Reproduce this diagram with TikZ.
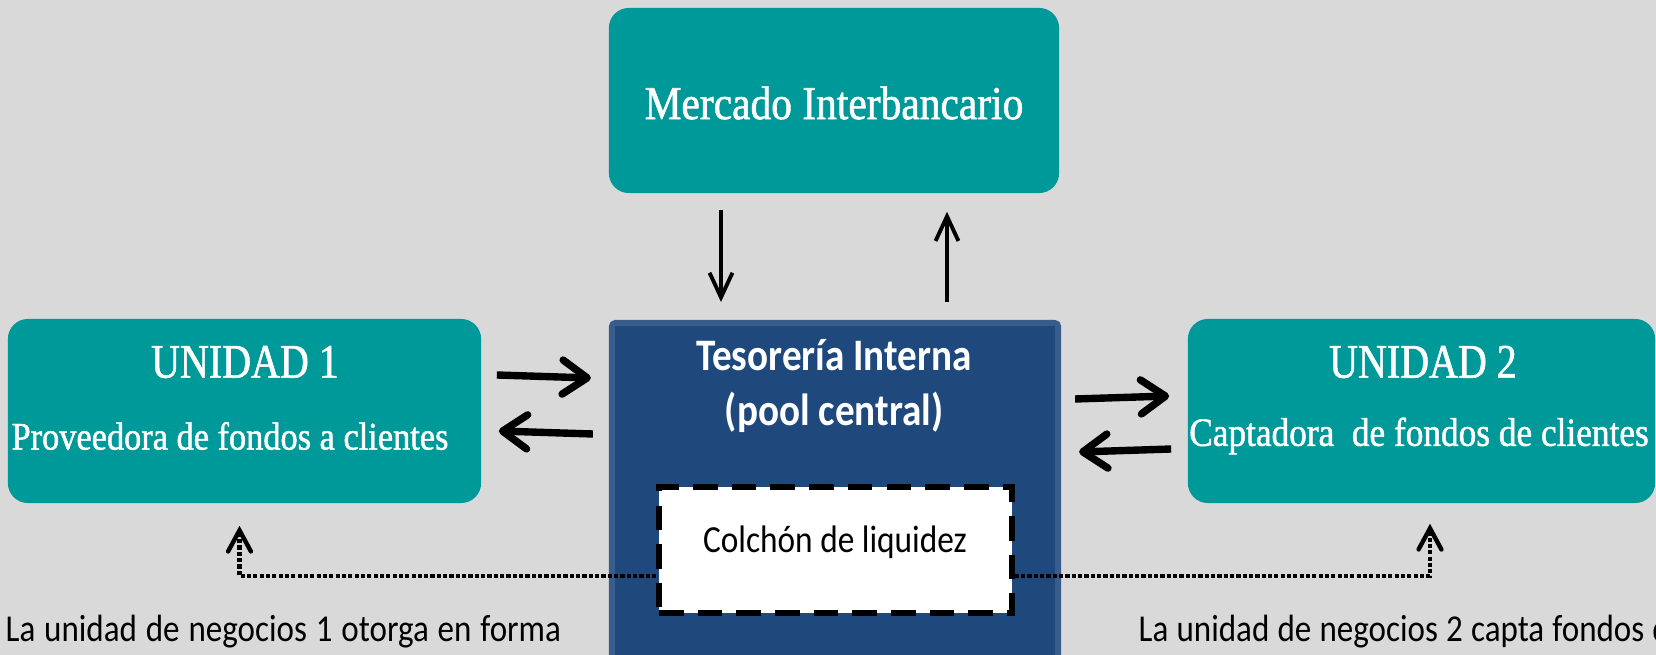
\documentclass[tikz,border=0pt]{standalone}
\usepackage{fontspec}
\setmainfont{Carlito}[FakeStretch=0.87]
\newfontfamily\cambriafont[FakeStretch=0.88, FakeBold=1.2]{Liberation Serif}
\newfontfamily\cambriatitle[FakeStretch=0.83, FakeBold=1.2]{Liberation Serif}
\usetikzlibrary{arrows.meta,calc}
\definecolor{tealbg}{RGB}{0,153,153}
\definecolor{poolblue}{RGB}{31,73,125}
\definecolor{poolline}{RGB}{56,93,138}
\definecolor{paper}{RGB}{217,217,217}

\begin{document}
\begin{tikzpicture}[
            x=0.01cm, y=-0.01cm,
            tealbox/.style={rectangle, rounded corners=20*0.2845pt, fill=tealbg, inner sep=0},
            poolbox/.style={rectangle, rounded corners=1pt, fill=poolblue, draw=poolline, line width=1.7pt, inner sep=0},
            cushbox/.style={rectangle, fill=white, draw=black, line width=1.5pt, dash pattern=on 7pt off 4pt, inner sep=0},
            bigarr/.style={line width=2.1pt, -{Straight Barb[length=7pt, width=9.7pt, line cap=round, line join=round]}},
            thinarr/.style={line width=1.1pt, -{Straight Barb[length=7pt, width=6.5pt]}},
            dotarr/.style={line width=1.25pt, dash pattern=on 1.2pt off 0.6pt, -{Straight Barb[length=6pt, width=6.5pt, line cap=round]}},
            whitett/.style={text=white, inner sep=0},
        ]
        \clip (0,0) rectangle (1656,655);
        \fill[paper] (0,0) rectangle (1656,655);
        \useasboundingbox (0,0) rectangle (1656,655);

        \node[tealbox, minimum width=4.5cm, minimum height=1.85cm] (merc) at (834,100.5) {};
        \node[whitett, font=\cambriafont\fontsize{13.4}{16}\selectfont] (merctext) at (834,103) {Mercado Interbancario};

        \node[tealbox, minimum width=4.73cm, minimum height=1.84cm] (u1) at (244.5,411) {};
        \node[whitett, font=\cambriatitle\fontsize{13.7}{17}\selectfont] (u1title) at (245,362) {UNIDAD 1};
        \node[whitett, font=\cambriafont\fontsize{11.1}{13}\selectfont] (u1sub) at (230,436) {Proveedora de fondos a clientes};

        \node[tealbox, minimum width=4.67cm, minimum height=1.84cm] (u2) at (1421.5,411) {};
        \node[whitett, font=\cambriatitle\fontsize{13.7}{17}\selectfont] (u2title) at (1423,362) {UNIDAD 2};
        \node[whitett, font=\cambriafont\fontsize{11.4}{13}\selectfont] (u2sub) at (1419,436) {Captadora\ \ de fondos de clientes};

        \node[poolbox, minimum width=4.46cm, minimum height=3.8cm, anchor=north] (tes) at (835,320) {};
        \node[whitett, font=\bfseries\fontsize{12.8}{15}\selectfont, align=center] (testitle) at (834,386) {Tesorería Interna\\[0.5pt](pool central)};

        \node[cushbox, minimum width=3.53cm, minimum height=1.26cm] (colch) at (835.5,550) {};
        \node[inner sep=0, font=\fontsize{10.9}{13}\selectfont] (colchtext) at (835,542) {Colchón de liquidez};

        \draw[dotarr] ($(colch.west)+(0,26)$) -| ($(u1.south)+(-5,22)$);
        \draw[dotarr] ($(colch.east)+(0,26)$) -| ($(u2.south)+(8.5,20)$);

        \draw[thinarr] ($(merc.south)+(-113,16)$) -- ($(tes.north)+(-114,-18)$);
        \draw[thinarr] ($(tes.north)+(112,-18)$) -- ($(merc.south)+(113,18)$);

        \draw[bigarr] ($(u1.east)+(15,-36)$) -- ($(tes.north west)+(-18,58)$);
        \draw[bigarr] ($(tes.north west)+(-16,114)$) -- ($(u1.east)+(17,20)$);
        \draw[bigarr] ($(tes.north east)+(14,79)$) -- ($(u2.west)+(-18,-15)$);
        \draw[bigarr] ($(u2.west)+(-16,38)$) -- ($(tes.north east)+(18,132)$);

        \node[anchor=base west, inner sep=0, font=\fontsize{10.8}{13}\selectfont] (note1) at (5,642)
            {\makebox[5.55cm][s]{La unidad de negocios 1 otorga en forma}};
        \node[anchor=base west, inner sep=0, font=\fontsize{10.8}{13}\selectfont] (note2) at (1138,642)
            {\makebox[5.55cm][s]{La unidad de negocios 2 capta fondos del}};
    \end{tikzpicture}
\end{document}
